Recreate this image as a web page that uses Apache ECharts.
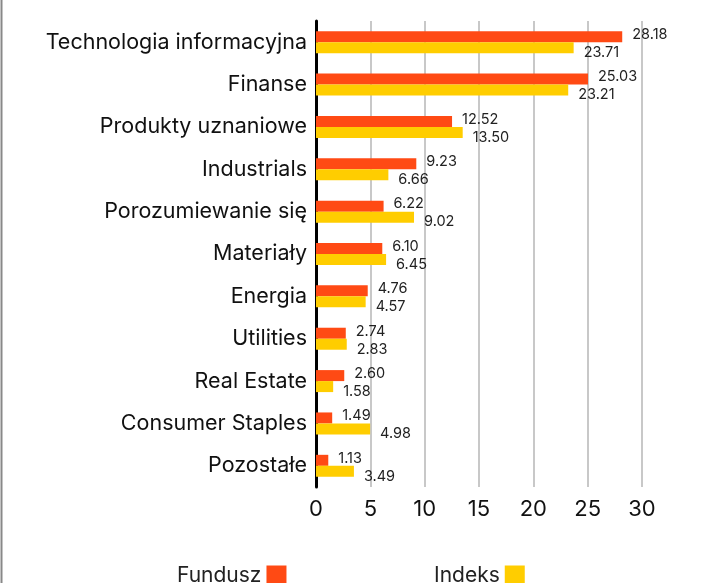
<!DOCTYPE html>
<html>
<head>
<meta charset="utf-8">
<script src="https://cdn.jsdelivr.net/npm/echarts@6/dist/echarts.min.js"></script>
<style>
html,body{margin:0;padding:0;background:#fff;}
#chart{width:718px;height:583px;}
</style>
</head>
<body>
<div id="chart"></div>
<script>
const categories = ["Technologia informacyjna","Finanse","Produkty uznaniowe","Industrials","Porozumiewanie się","Materiały","Energia","Utilities","Real Estate","Consumer Staples","Pozostałe"];
const fundusz = [28.18,25.03,12.52,9.23,6.22,6.10,4.76,2.74,2.60,1.49,1.13];
const indeks = [23.71,23.21,13.50,6.66,9.02,6.45,4.57,2.83,1.58,4.98,3.49];
const xTicks = [0,5,10,15,20,25,30];
const seriesNames = ["Fundusz","Indeks"];

const FONT = "Inter";
const chart = echarts.init(document.getElementById('chart'));
const lbl = (dy) => ({
  show: true, position: 'right', distance: 10, offset: [0, dy],
  formatter: p => p.value.toFixed(2),
  fontFamily: FONT, fontSize: 14.5, color: '#222'
});
chart.setOption({
  animation: false,
  grid: {left: 316, right: 76, top: 21, bottom: 96, containLabel: false},
  graphic: [{type:'line', shape:{x1:1.5,y1:0,x2:1.5,y2:583}, style:{stroke:'#888', lineWidth:2}}],
  legend: [
    {data:[seriesNames[0]], left:172, top:560, align:'right', itemWidth:20, itemHeight:20, icon:'rect', itemGap:8,
     textStyle:{fontFamily:FONT, fontSize:21, color:'#222'}},
    {data:[seriesNames[1]], left:429, top:560, align:'right', itemWidth:20, itemHeight:20, icon:'rect',
     textStyle:{fontFamily:FONT, fontSize:21, color:'#222'}}
  ],
  xAxis: {
    type: 'value', min: xTicks[0], max: xTicks[xTicks.length-1], interval: 5,
    axisLine: {show:false}, axisTick: {show:false},
    splitLine: {show:true, lineStyle:{color:'#c8c8c8', width:2}},
    axisLabel: {fontFamily:FONT, fontSize:22, color:'#111', margin:11}
  },
  yAxis: {
    type: 'category', data: categories, inverse: true,
    axisLine: {show:true, lineStyle:{color:'#000', width:3}},
    axisTick: {show:false},
    axisLabel: {fontFamily:FONT, fontSize:21.5, color:'#111', margin:9}
  },
  series: [
    {name: seriesNames[0], type:'bar', data: fundusz, barWidth: 11, barGap: '0%',
     itemStyle:{color:'#FF4A14'}, label: lbl(-2)},
    {name: seriesNames[1], type:'bar', data: indeks, barWidth: 11, barGap: '0%',
     itemStyle:{color:'#FFCD00'}, label: lbl(5)}
  ]
});
</script>
</body>
</html>
